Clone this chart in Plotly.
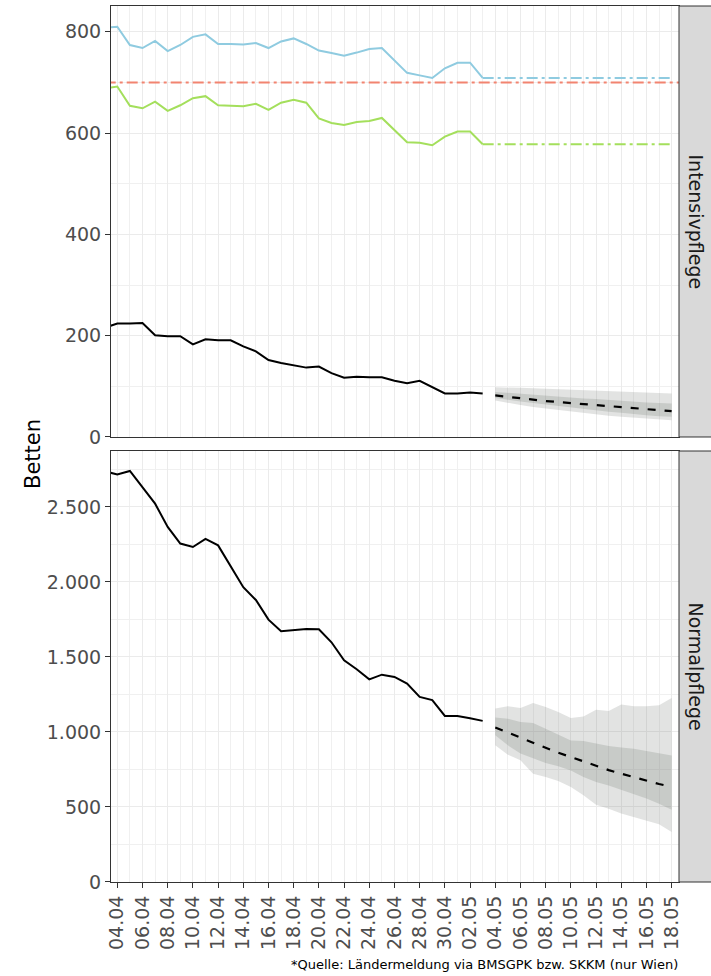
import pandas as pd
import plotly.graph_objects as go

# ---------------- data ----------------
obs_dates = pd.date_range("2021-04-03", "2021-05-03").strftime("%Y-%m-%d").tolist()
fc_dates = pd.date_range("2021-05-04", "2021-05-18").strftime("%Y-%m-%d").tolist()

icu_obs = [216, 224, 224, 225, 201, 199, 199, 183, 193, 191, 191, 179, 169, 152, 146,
           141, 137, 139, 126, 117, 119, 118, 118, 111, 106, 111, 99, 86, 86, 88, 86]
normal_obs = [2738, 2716, 2740, 2629, 2522, 2367, 2256, 2233, 2287, 2244, 2100, 1965,
              1880, 1749, 1671, 1678, 1687, 1685, 1598, 1478, 1418, 1351, 1382, 1367,
              1322, 1234, 1213, 1107, 1107, 1091, 1074]
icu_blue = [808, 810, 774, 768, 782, 762, 774, 790, 795, 776, 776, 775, 778, 768, 781,
            787, 776, 763, 758, 753, 759, 766, 768, 743, 719, 714, 709, 728, 739, 739, 709]
icu_green = [688, 692, 654, 649, 662, 644, 655, 669, 673, 655, 654, 653, 658, 646, 660,
             666, 660, 629, 620, 616, 622, 624, 630, 606, 582, 581, 576, 593, 603, 603, 578]

proj_dates = ["2021-05-03", "2021-05-18"]
blue_proj = [709, 709]
green_proj = [578, 578]
red_dates = ["2021-04-03", "2021-05-19"]
red_limit = [700, 700]

icu_med = [82, 79, 77, 74, 71, 69, 67, 65, 63, 61, 59, 56, 54, 53, 51]
icu_out_hi = [98, 98, 97, 96, 95, 94, 93, 92, 91, 90, 89, 88, 87, 86, 86]
icu_out_lo = [72, 67, 63, 59, 56, 53, 50, 47, 44, 42, 40, 38, 36, 34, 33]
icu_in_hi = [89, 87, 86, 84, 82, 80, 78, 76, 75, 73, 71, 70, 68, 67, 66]
icu_in_lo = [77, 73, 70, 67, 64, 61, 58, 55, 53, 50, 48, 45, 43, 41, 40]

nor_med = [1030, 995, 962, 929, 895, 862, 832, 802, 772, 746, 722, 698, 675, 653, 635]
nor_out_hi = [1156, 1171, 1160, 1193, 1167, 1133, 1093, 1104, 1149, 1140, 1184, 1171, 1171, 1178, 1227]
nor_out_lo = [911, 849, 811, 722, 700, 673, 633, 578, 515, 489, 456, 433, 407, 385, 333]
nor_in_hi = [1096, 1089, 1067, 1060, 1022, 984, 944, 940, 922, 907, 896, 889, 873, 856, 844]
nor_in_lo = [978, 911, 856, 822, 793, 771, 744, 700, 667, 644, 616, 589, 556, 522, 482]

panel_labels = ["Intensivpflege", "Normalpflege"]
y_title = "Betten"
caption = "*Quelle: Ländermeldung via BMSGPK bzw. SKKM (nur Wien)"

# ---------------- styles ----------------
FONT = "DejaVu Sans"
BLUE = "#8FCBE0"
GREEN = "#A4DF5C"
RED = "#F28470"
OUTER = "rgba(128,135,128,0.23)"
INNER = "rgba(110,118,110,0.22)"
DOTDASH = "11px,4px,3px,4px"
DASH = "8px,9px"
MAJOR_GRID = "#EBEBEB"
MINOR_GRID = "#F0F0F0"

fig = go.Figure()


def add_band(xa, ya, lo, hi, color):
    fig.add_trace(go.Scatter(x=fc_dates, y=lo, mode="lines", line=dict(width=0),
                             xaxis=xa, yaxis=ya, hoverinfo="skip"))
    fig.add_trace(go.Scatter(x=fc_dates, y=hi, mode="lines", line=dict(width=0),
                             fill="tonexty", fillcolor=color, xaxis=xa, yaxis=ya,
                             hoverinfo="skip"))


# top panel (Intensivpflege)
add_band("x2", "y2", icu_out_lo, icu_out_hi, OUTER)
add_band("x2", "y2", icu_in_lo, icu_in_hi, INNER)
fig.add_trace(go.Scatter(x=red_dates, y=red_limit, mode="lines",
                         line=dict(color=RED, width=2, dash=DOTDASH), xaxis="x2", yaxis="y2"))
fig.add_trace(go.Scatter(x=obs_dates, y=icu_blue, mode="lines",
                         line=dict(color=BLUE, width=2), xaxis="x2", yaxis="y2"))
fig.add_trace(go.Scatter(x=proj_dates, y=blue_proj, mode="lines",
                         line=dict(color=BLUE, width=2, dash=DOTDASH), xaxis="x2", yaxis="y2"))
fig.add_trace(go.Scatter(x=obs_dates, y=icu_green, mode="lines",
                         line=dict(color=GREEN, width=2), xaxis="x2", yaxis="y2"))
fig.add_trace(go.Scatter(x=proj_dates, y=green_proj, mode="lines",
                         line=dict(color=GREEN, width=2, dash=DOTDASH), xaxis="x2", yaxis="y2"))
fig.add_trace(go.Scatter(x=obs_dates, y=icu_obs, mode="lines",
                         line=dict(color="black", width=2), xaxis="x2", yaxis="y2"))
fig.add_trace(go.Scatter(x=fc_dates, y=icu_med, mode="lines",
                         line=dict(color="black", width=2.2, dash=DASH), xaxis="x2", yaxis="y2"))

# bottom panel (Normalpflege)
add_band("x", "y", nor_out_lo, nor_out_hi, OUTER)
add_band("x", "y", nor_in_lo, nor_in_hi, INNER)
fig.add_trace(go.Scatter(x=obs_dates, y=normal_obs, mode="lines",
                         line=dict(color="black", width=2), xaxis="x", yaxis="y"))
fig.add_trace(go.Scatter(x=fc_dates, y=nor_med, mode="lines",
                         line=dict(color="black", width=2.2, dash=DASH), xaxis="x", yaxis="y"))

xrange = ["2021-04-03 12:00", "2021-05-18 14:00"]
DAY = 86400000

common_x = dict(
    type="date", range=xrange, tick0="2021-04-04", dtick=2 * DAY, tickformat="%d.%m",
    showgrid=True, gridcolor=MAJOR_GRID, gridwidth=1.3,
    minor=dict(dtick=DAY, tick0="2021-04-04", showgrid=True, gridcolor=MINOR_GRID, gridwidth=1),
    showline=True, linecolor="#333333", linewidth=1, mirror=True,
    zeroline=False,
)
common_y = dict(
    showgrid=True, gridcolor=MAJOR_GRID, gridwidth=1.3,
    showline=True, linecolor="#333333", linewidth=1, mirror=True,
    zeroline=False, ticks="outside", ticklen=5, tickcolor="#333333", tickwidth=1,
    tickfont=dict(family=FONT, size=19, color="#4D4D4D"), tickformat=",d",
)

TOP_LO = 0.508
BOT_HI = 0.492

fig.update_layout(
    width=711, height=976,
    margin=dict(l=111, r=32, t=6, b=94),
    paper_bgcolor="white", plot_bgcolor="white",
    showlegend=False, separators=",.",
    font=dict(family=FONT),
    xaxis=dict(common_x, anchor="y", domain=[0, 1], ticks="outside", ticklen=5,
               tickcolor="#333333", tickwidth=1, tickangle=-90,
               tickfont=dict(family=FONT, size=19, color="#4D4D4D")),
    xaxis2=dict(common_x, anchor="y2", domain=[0, 1], matches="x", showticklabels=False,
                ticks=""),
    yaxis=dict(common_y, anchor="x", domain=[0, BOT_HI], range=[0, 2873], dtick=500,
               minor=dict(dtick=250, showgrid=True, gridcolor=MINOR_GRID, gridwidth=1)),
    yaxis2=dict(common_y, anchor="x2", domain=[TOP_LO, 1], range=[0, 851], dtick=200,
                minor=dict(dtick=100, showgrid=True, gridcolor=MINOR_GRID, gridwidth=1)),
)

# facet strips
strip_w = 34 / 568
for (y0, y1), label in zip([(TOP_LO, 1), (0, BOT_HI)], panel_labels):
    fig.add_shape(type="rect", xref="paper", yref="paper", x0=1, x1=1 + strip_w,
                  y0=y0, y1=y1, fillcolor="#D9D9D9", line=dict(color="#333333", width=1),
                  layer="above")
    fig.add_annotation(xref="paper", yref="paper", x=1 + 17 / 568, y=(y0 + y1) / 2,
                       text=label, textangle=90, showarrow=False,
                       font=dict(family=FONT, size=19, color="#1A1A1A"),
                       xanchor="center", yanchor="middle")

fig.add_annotation(xref="paper", yref="paper", x=(33 - 111) / 568, y=0.4886,
                   text=y_title, textangle=-90, showarrow=False,
                   font=dict(family=FONT, size=21, color="black"),
                   xanchor="center", yanchor="middle")

fig.add_annotation(xref="paper", yref="paper", x=(680 - 111) / 568, y=(882 - 964) / 876,
                   text=caption, showarrow=False,
                   font=dict(family=FONT, size=13, color="black"),
                   xanchor="right", yanchor="middle")

fig.write_html("out.html", config={"displayModeBar": False},
               post_script="document.body.style.margin='0px';document.body.style.overflow='hidden';")
